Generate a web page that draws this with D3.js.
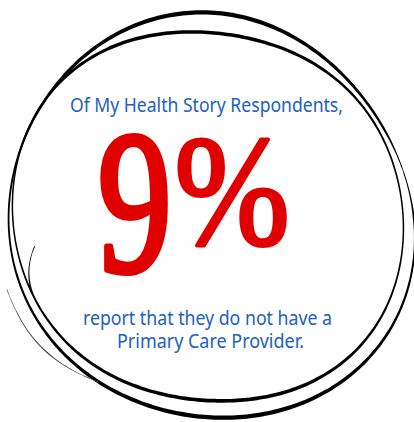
<!DOCTYPE html>
<html><head><meta charset="utf-8">
<script src="https://cdn.jsdelivr.net/npm/d3@7"></script>
<style>html,body{margin:0;padding:0;background:#fff;overflow:hidden}</style>
</head><body>
<svg id="c" width="414" height="422"></svg>
<script>
// ---- data ----
const headline = "Of My Health Story Respondents,";
const statValue = 9;
const statUnit = "%";
const footerLines = ["report that they do not have a", "Primary Care Provider."];
// hand-drawn loops (decoration): polar radius r(φ) = r0 + Σ [cos_k cos kφ + sin_k sin kφ]
const loops = [
  {r0: 202.4, cosK: [0, 0, 0, 0], sinK: [3.5, 5.25, 3.5, 0], a0: -15, a1: 350, wMin: 1.8, wMax: 4.2, curl: 0, lift: 0, color: "#000"},
  {r0: 191.7, cosK: [-3.2, 5.6, 0, -2.1], sinK: [1.7, 5.35, 0, 0], a0: -240, a1: 170, wMin: 1.5, wMax: 4.0, curl: 18, lift: 0, color: "#000"},
  {r0: 202.4, cosK: [0, 0, 0, 0], sinK: [3.5, 5.25, 3.5, 0], a0: 124, a1: 161, wMin: 1.0, wMax: 1.4, curl: 0, lift: 14, color: "#444"},
];
const centre = [211, 215];

const svg = d3.select("#c");

function loopOutline(L) {
  const angles = d3.range(L.a0, L.a1 + 0.01, 2);
  const span = L.a1 - L.a0;
  const center = angles.map(deg => {
    const t = deg * Math.PI / 180;
    let r = L.r0;
    L.cosK.forEach((c, k) => r += c * Math.cos((k + 1) * t));
    L.sinK.forEach((s, k) => r += s * Math.sin((k + 1) * t));
    const u = Math.max(0, (deg - (L.a1 - 16)) / 16);
    r -= L.curl * u * u;
    const v = (deg - L.a0) / span; // 0 where it merges, 1 at its free end
    r += L.lift * Math.min(1, Math.sin(Math.min(1, v * 1.4) * Math.PI / 2));
    return [centre[0] + r * Math.cos(t), centre[1] + r * Math.sin(t)];
  });
  const left = [], right = [];
  center.forEach((p, i) => {
    const p0 = center[Math.max(0, i - 1)], p1 = center[Math.min(center.length - 1, i + 1)];
    const dx = p1[0] - p0[0], dy = p1[1] - p0[1];
    const len = Math.hypot(dx, dy) || 1;
    const nx = -dy / len, ny = dx / len;
    const sy = (p[1] - centre[1]) / 200;
    const taper = Math.min(1, i / 8, (center.length - 1 - i) / 8);
    const w = (L.wMin + (L.wMax - L.wMin) * sy * sy) * (0.3 + 0.7 * taper);
    left.push([p[0] + nx * w / 2, p[1] + ny * w / 2]);
    right.push([p[0] - nx * w / 2, p[1] - ny * w / 2]);
  });
  return d3.line().curve(d3.curveCatmullRomClosed)(left.concat(right.reverse()));
}
loops.forEach(L => {
  svg.append("path").attr("d", loopOutline(L)).attr("fill", L.color).attr("stroke", "none");
});

const blue = "#2160c0";
const font = "'Noto Sans', sans-serif";
svg.append("text").attr("x", 206.5).attr("y", 112).attr("text-anchor", "middle")
  .attr("font-family", font).attr("font-size", 20).attr("fill", blue)
  .attr("textLength", 273).attr("lengthAdjust", "spacingAndGlyphs").text(headline);
const fy = [325, 348], fx = [207.5, 210.5], fw = [249, 187];
footerLines.forEach((t, i) => {
  svg.append("text").attr("x", fx[i]).attr("y", fy[i]).attr("text-anchor", "middle")
    .attr("font-family", font).attr("font-size", 20).attr("fill", blue)
    .attr("textLength", fw[i]).attr("lengthAdjust", "spacingAndGlyphs").text(t);
});
function fitText(str, box, sw) {
  const g = svg.append("g");
  g.append("text").attr("font-family", "'Liberation Serif', serif")
    .attr("font-size", 200).attr("fill", "#e00000")
    .attr("stroke", "#e00000").attr("stroke-width", sw).attr("stroke-linejoin", "round").text(str);
  const ctx = document.createElement("canvas").getContext("2d");
  ctx.font = `200px 'Liberation Serif'`;
  const m = ctx.measureText(str);
  const gx0 = -m.actualBoundingBoxLeft - sw / 2, gx1 = m.actualBoundingBoxRight + sw / 2;
  const gy0 = -m.actualBoundingBoxAscent - sw / 2, gy1 = m.actualBoundingBoxDescent + sw / 2;
  const sx = (box[1] - box[0]) / (gx1 - gx0), sy = (box[3] - box[2]) / (gy1 - gy0);
  g.attr("transform", `translate(${box[0] - gx0 * sx},${box[2] - gy0 * sy}) scale(${sx},${sy})`);
}
fitText(String(statValue), [100, 168, 133, 276], 6);
fitText(statUnit, [177, 287, 138, 248], 5);
</script>
</body></html>
